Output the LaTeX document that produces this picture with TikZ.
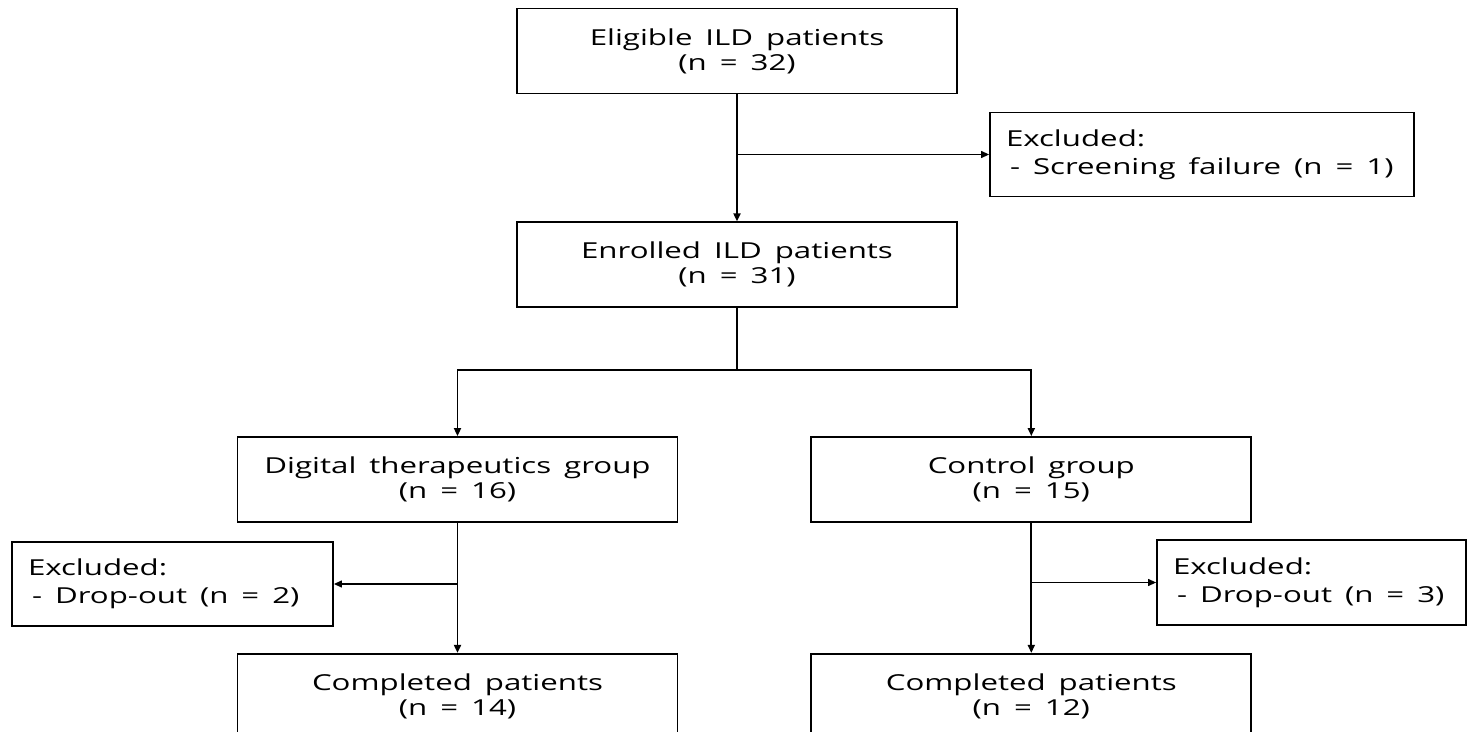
\documentclass[tikz,border=0pt]{standalone}
\usepackage{fontspec}
\setmainfont{Open Sans}[FakeStretch=1.42, WordSpace=1.6]
\usepackage{tikz}
\usetikzlibrary{positioning, arrows.meta}

\begin{document}
\begin{tikzpicture}[x=0.5pt, y=-0.5pt,
    font=\fontsize{11}{12.5}\selectfont,
    box/.style={draw, line width=0.9pt, minimum width=220pt, minimum height=42.5pt, align=center},
    exbox/.style={draw, line width=0.9pt, inner xsep=8pt, minimum height=42pt, align=flush left,
                  font=\fontsize{11}{14}\selectfont},
    arr/.style={-{Triangle[length=4pt, width=3.5pt]}, line width=0.9pt},
    sidearr/.style={-{Triangle[length=4pt, width=3.5pt]}, line width=0.6pt}]
  \useasboundingbox (0,0) rectangle (1472,732);
  \clip (0,0) rectangle (1472,732);

  % top of the flow
  \node[box] (elig) at (737,51) {Eligible ILD patients\\(n = 32)};
  \node[box, below=63.5pt of elig] (enrol) {Enrolled ILD patients\\(n = 31)};
  \node[exbox, text width=196pt] (excl1) at (1202,154.5)
    {Excluded:\\\hspace{2pt}- Screening failure (n = 1)};

  % two arms
  \node[box] (dtx) at (457.5,479.5) {Digital therapeutics group\\(n = 16)};
  \node[box, right=66pt of dtx] (ctrl) {Control group\\(n = 15)};
  \node[exbox, text width=144.5pt] (excl2) at (172.5,584)
    {Excluded:\\\hspace{2pt}- Drop-out (n = 2)};
  \node[exbox, text width=138.5pt, minimum height=42.5pt] (excl3) at (1311.5,582.5)
    {Excluded:\\\hspace{2pt}- Drop-out (n = 3)};
  \node[box, below=65pt of dtx] (comp1) {Completed patients\\(n = 14)};
  \node[box, below=65pt of ctrl] (comp2) {Completed patients\\(n = 12)};

  \coordinate (fork) at (737,370);

  \draw[arr] (elig) -- (enrol);
  \draw[sidearr] (elig.south |- excl1.west) -- (excl1.west);
  \draw[line width=0.9pt] (enrol) -- (fork);
  \draw[arr] (fork) -| (dtx);
  \draw[arr] (fork) -| (ctrl);
  \draw[arr] (dtx) -- (comp1);
  \draw[sidearr] (dtx.south |- excl2.east) -- (excl2.east);
  \draw[arr] (ctrl) -- (comp2);
  \draw[sidearr] (ctrl.south |- excl3.west) -- (excl3.west);
\end{tikzpicture}
\end{document}
